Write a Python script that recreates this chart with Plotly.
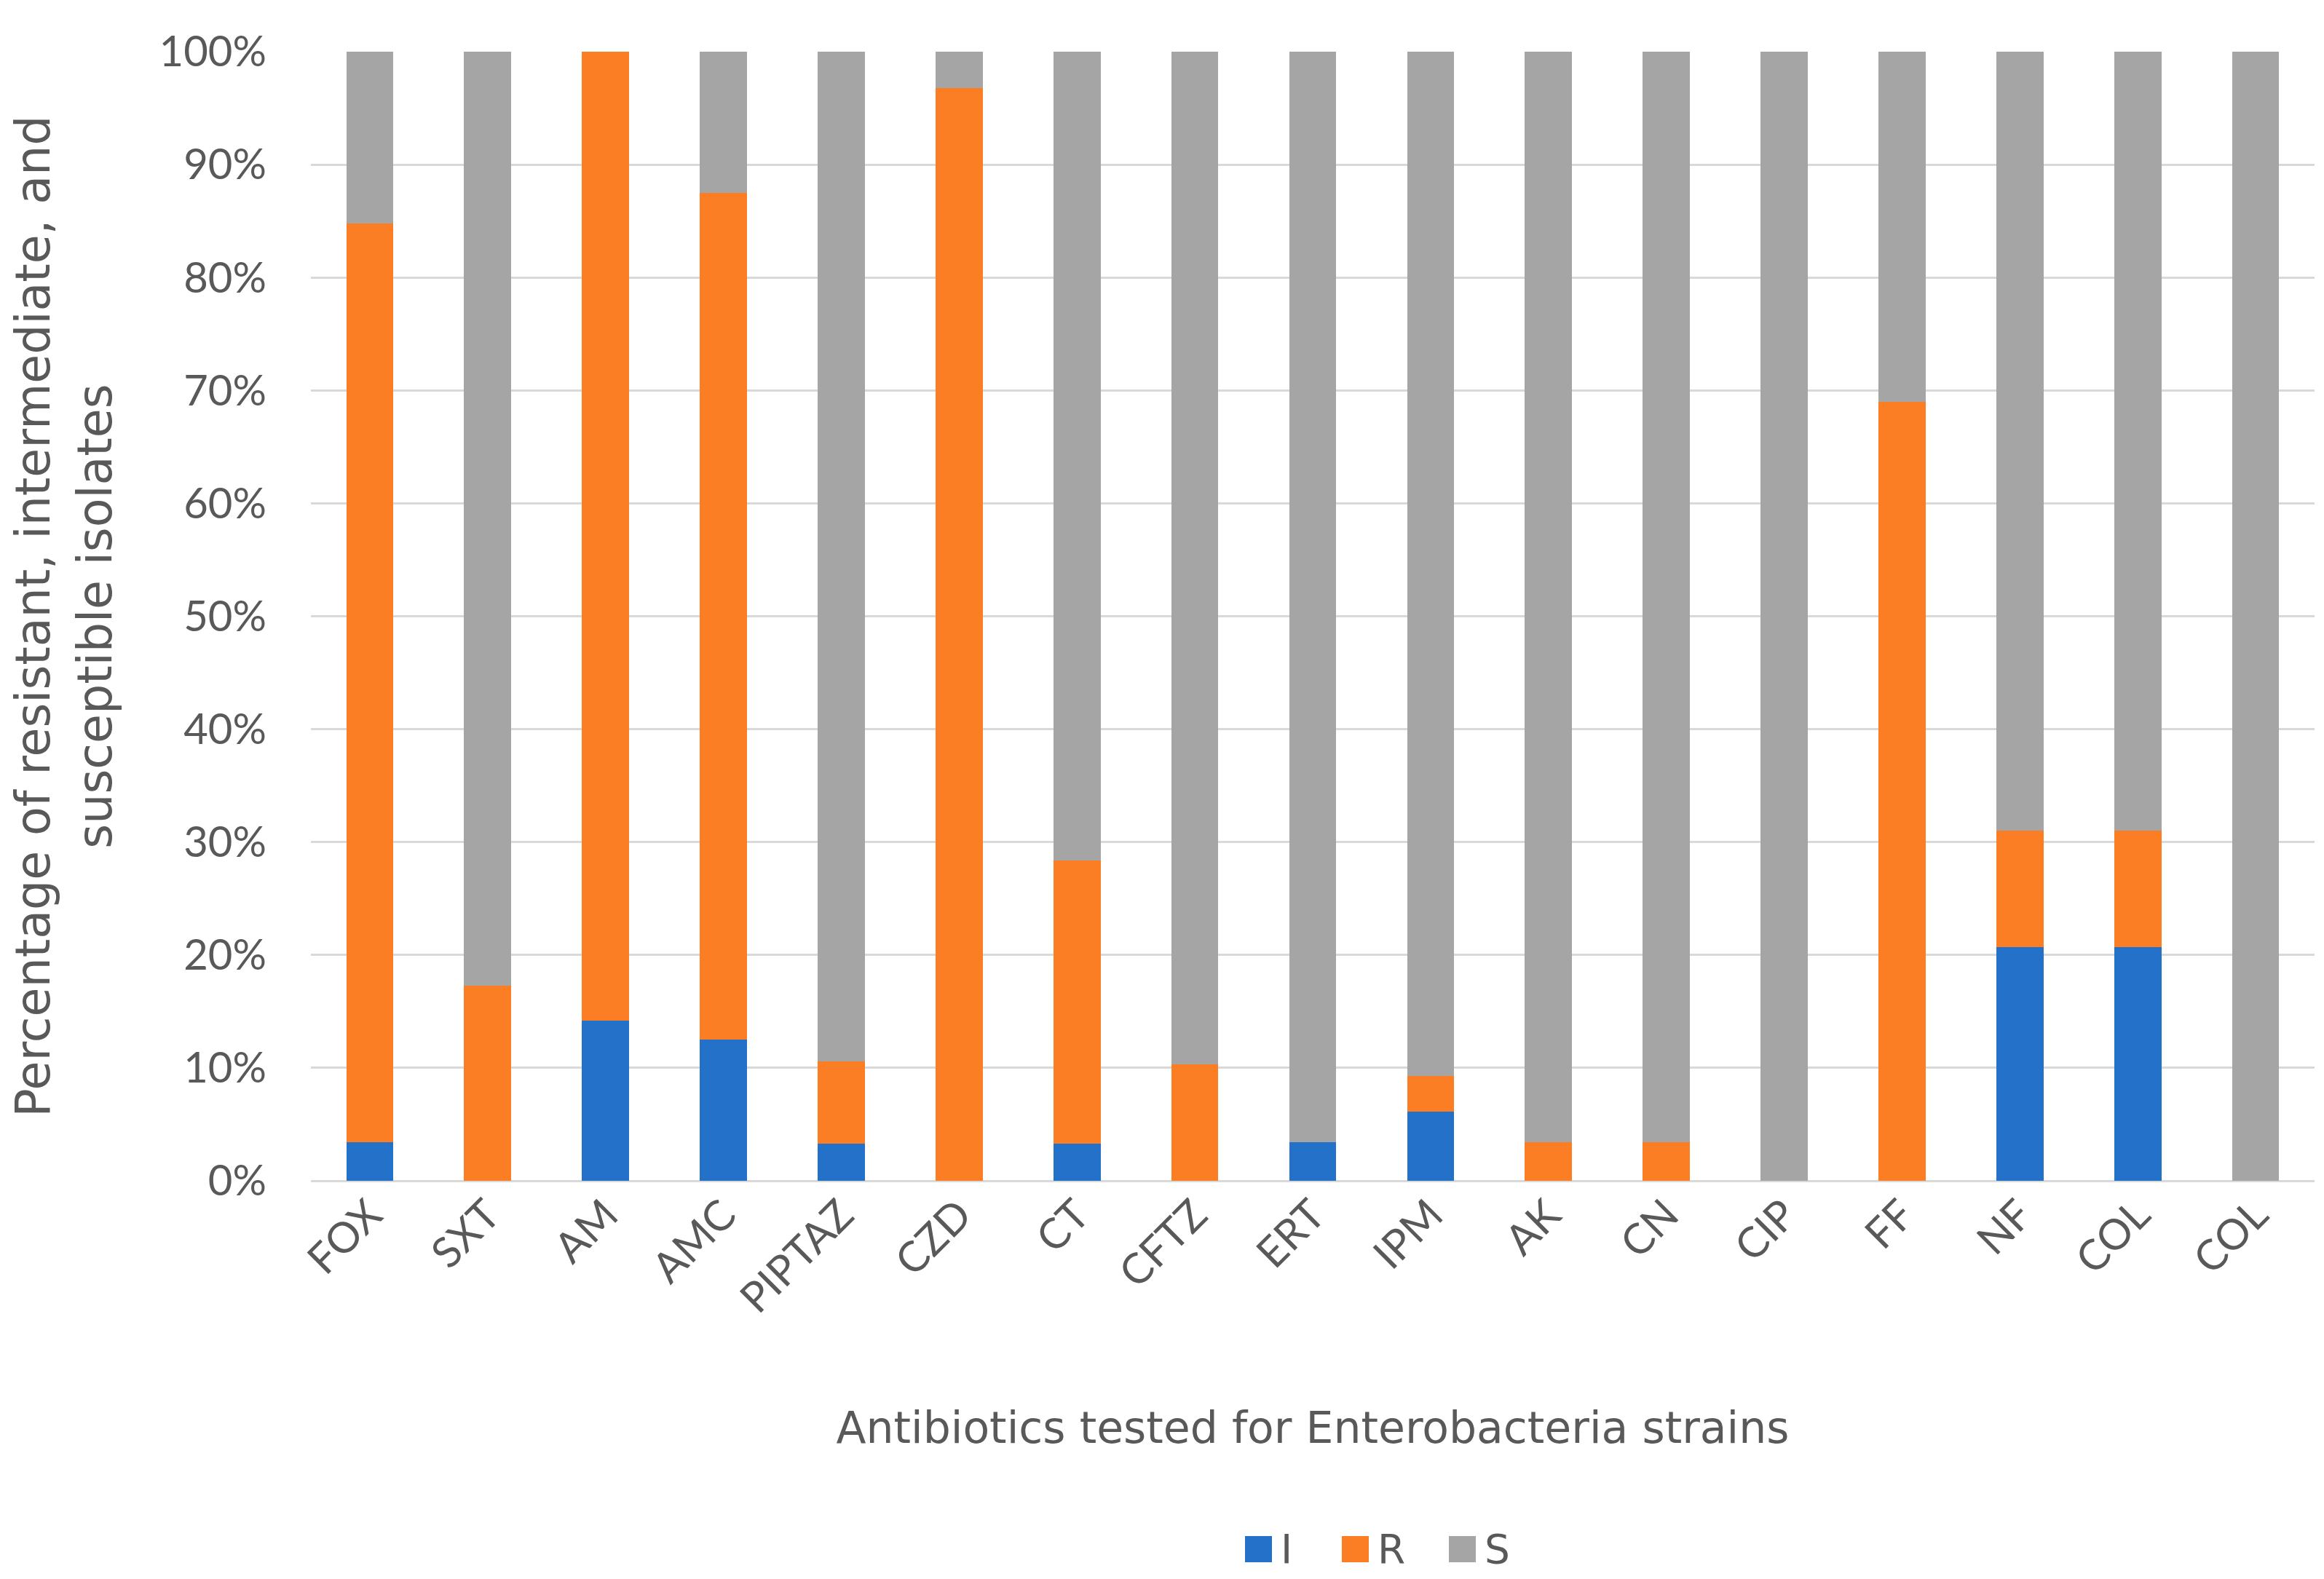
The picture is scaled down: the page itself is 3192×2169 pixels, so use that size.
import plotly.graph_objects as go

# --- data (percent of isolates) ---
antibiotics = ["FOX", "SXT", "AM", "AMC", "PIPTAZ", "CZD", "CT", "CFTZ", "ERT",
               "IPM", "AK", "CN", "CIP", "FF", "NF", "COL", "COL"]
intermediate = [3.4, 0, 14.2, 12.5, 3.3, 0, 3.3, 0, 3.4, 6.1, 0, 0, 0, 0, 20.7, 20.7, 0]
resistant = [81.4, 17.3, 85.8, 75.0, 7.3, 96.8, 25.1, 10.3, 0, 3.2, 3.4, 3.4, 0, 69.0, 10.3, 10.3, 0]
susceptible = [round(100 - i - r, 1) for i, r in zip(intermediate, resistant)]

series = [("I", intermediate, "#2371C8"),
          ("R", resistant, "#FB7E24"),
          ("S", susceptible, "#A5A5A5")]

font_main = "Lato, 'Open Sans', sans-serif"
font_title = "'DejaVu Sans', 'Open Sans', sans-serif"
text_col = "#595959"

W, H = 3192, 2169
ML, MR, MT, MB = 419, 21, 63, 555
PW, PH = W - ML - MR, H - MT - MB


def px_x(px):
    return (px - ML) / PW


def px_y(py):
    return (H - MB - py) / PH


# duplicate labels (COL twice) -> plot on index positions, label via ticktext
xpos = list(range(len(antibiotics)))

fig = go.Figure()
for name, vals, col in series:
    fig.add_trace(go.Bar(x=xpos, y=vals, name=name, marker_color=col,
                         marker_line_width=0))

# legend drawn by hand: plotly caps the swatch size, the original has big squares
legend_left = [1702, 1835, 1982]   # left edge of each swatch (px)
sw, sh, ly = 37, 36, 2120
for (name, vals, col), x0 in zip(series, legend_left):
    fig.add_shape(type="rect", xref="paper", yref="paper",
                  x0=px_x(x0), x1=px_x(x0 + sw),
                  y0=px_y(ly + sh / 2), y1=px_y(ly - sh / 2),
                  fillcolor=col, line_width=0)
    fig.add_annotation(text=name, xref="paper", yref="paper",
                       x=px_x(x0 + sw + 10), y=px_y(ly), xanchor="left", yanchor="middle",
                       showarrow=False,
                       font=dict(family=font_title, size=55, color=text_col))

fig.update_layout(
    barmode="stack",
    bargap=0.6,
    width=W, height=H,
    paper_bgcolor="white", plot_bgcolor="white",
    margin=dict(l=ML, r=MR, t=MT, b=MB),
    font=dict(family=font_main, size=58, color=text_col),
    showlegend=False,
)
fig.update_xaxes(
    tickmode="array", tickvals=xpos, ticktext=antibiotics,
    tickangle=-45, range=[-0.5, len(antibiotics) - 0.5],
    showgrid=False, showline=False, zeroline=False,
    tickfont=dict(size=58, color=text_col),
    title=dict(text="Antibiotics tested for Enterobacteria strains",
               font=dict(family=font_title, size=60, color=text_col), standoff=125),
)
fig.update_yaxes(
    range=[0, 100], dtick=10, ticksuffix="%",
    showgrid=True, gridcolor="#D9D9D9", gridwidth=3,
    zeroline=True, zerolinecolor="#D9D9D9", zerolinewidth=3,
    showline=False, ticklabelstandoff=60,
    tickfont=dict(size=58, color=text_col),
    title=dict(text="Percentage of resistant, intermediate, and<br>susceptible isolates",
               font=dict(family=font_title, size=65, color=text_col), standoff=45),
)

fig.write_html("out.html")
